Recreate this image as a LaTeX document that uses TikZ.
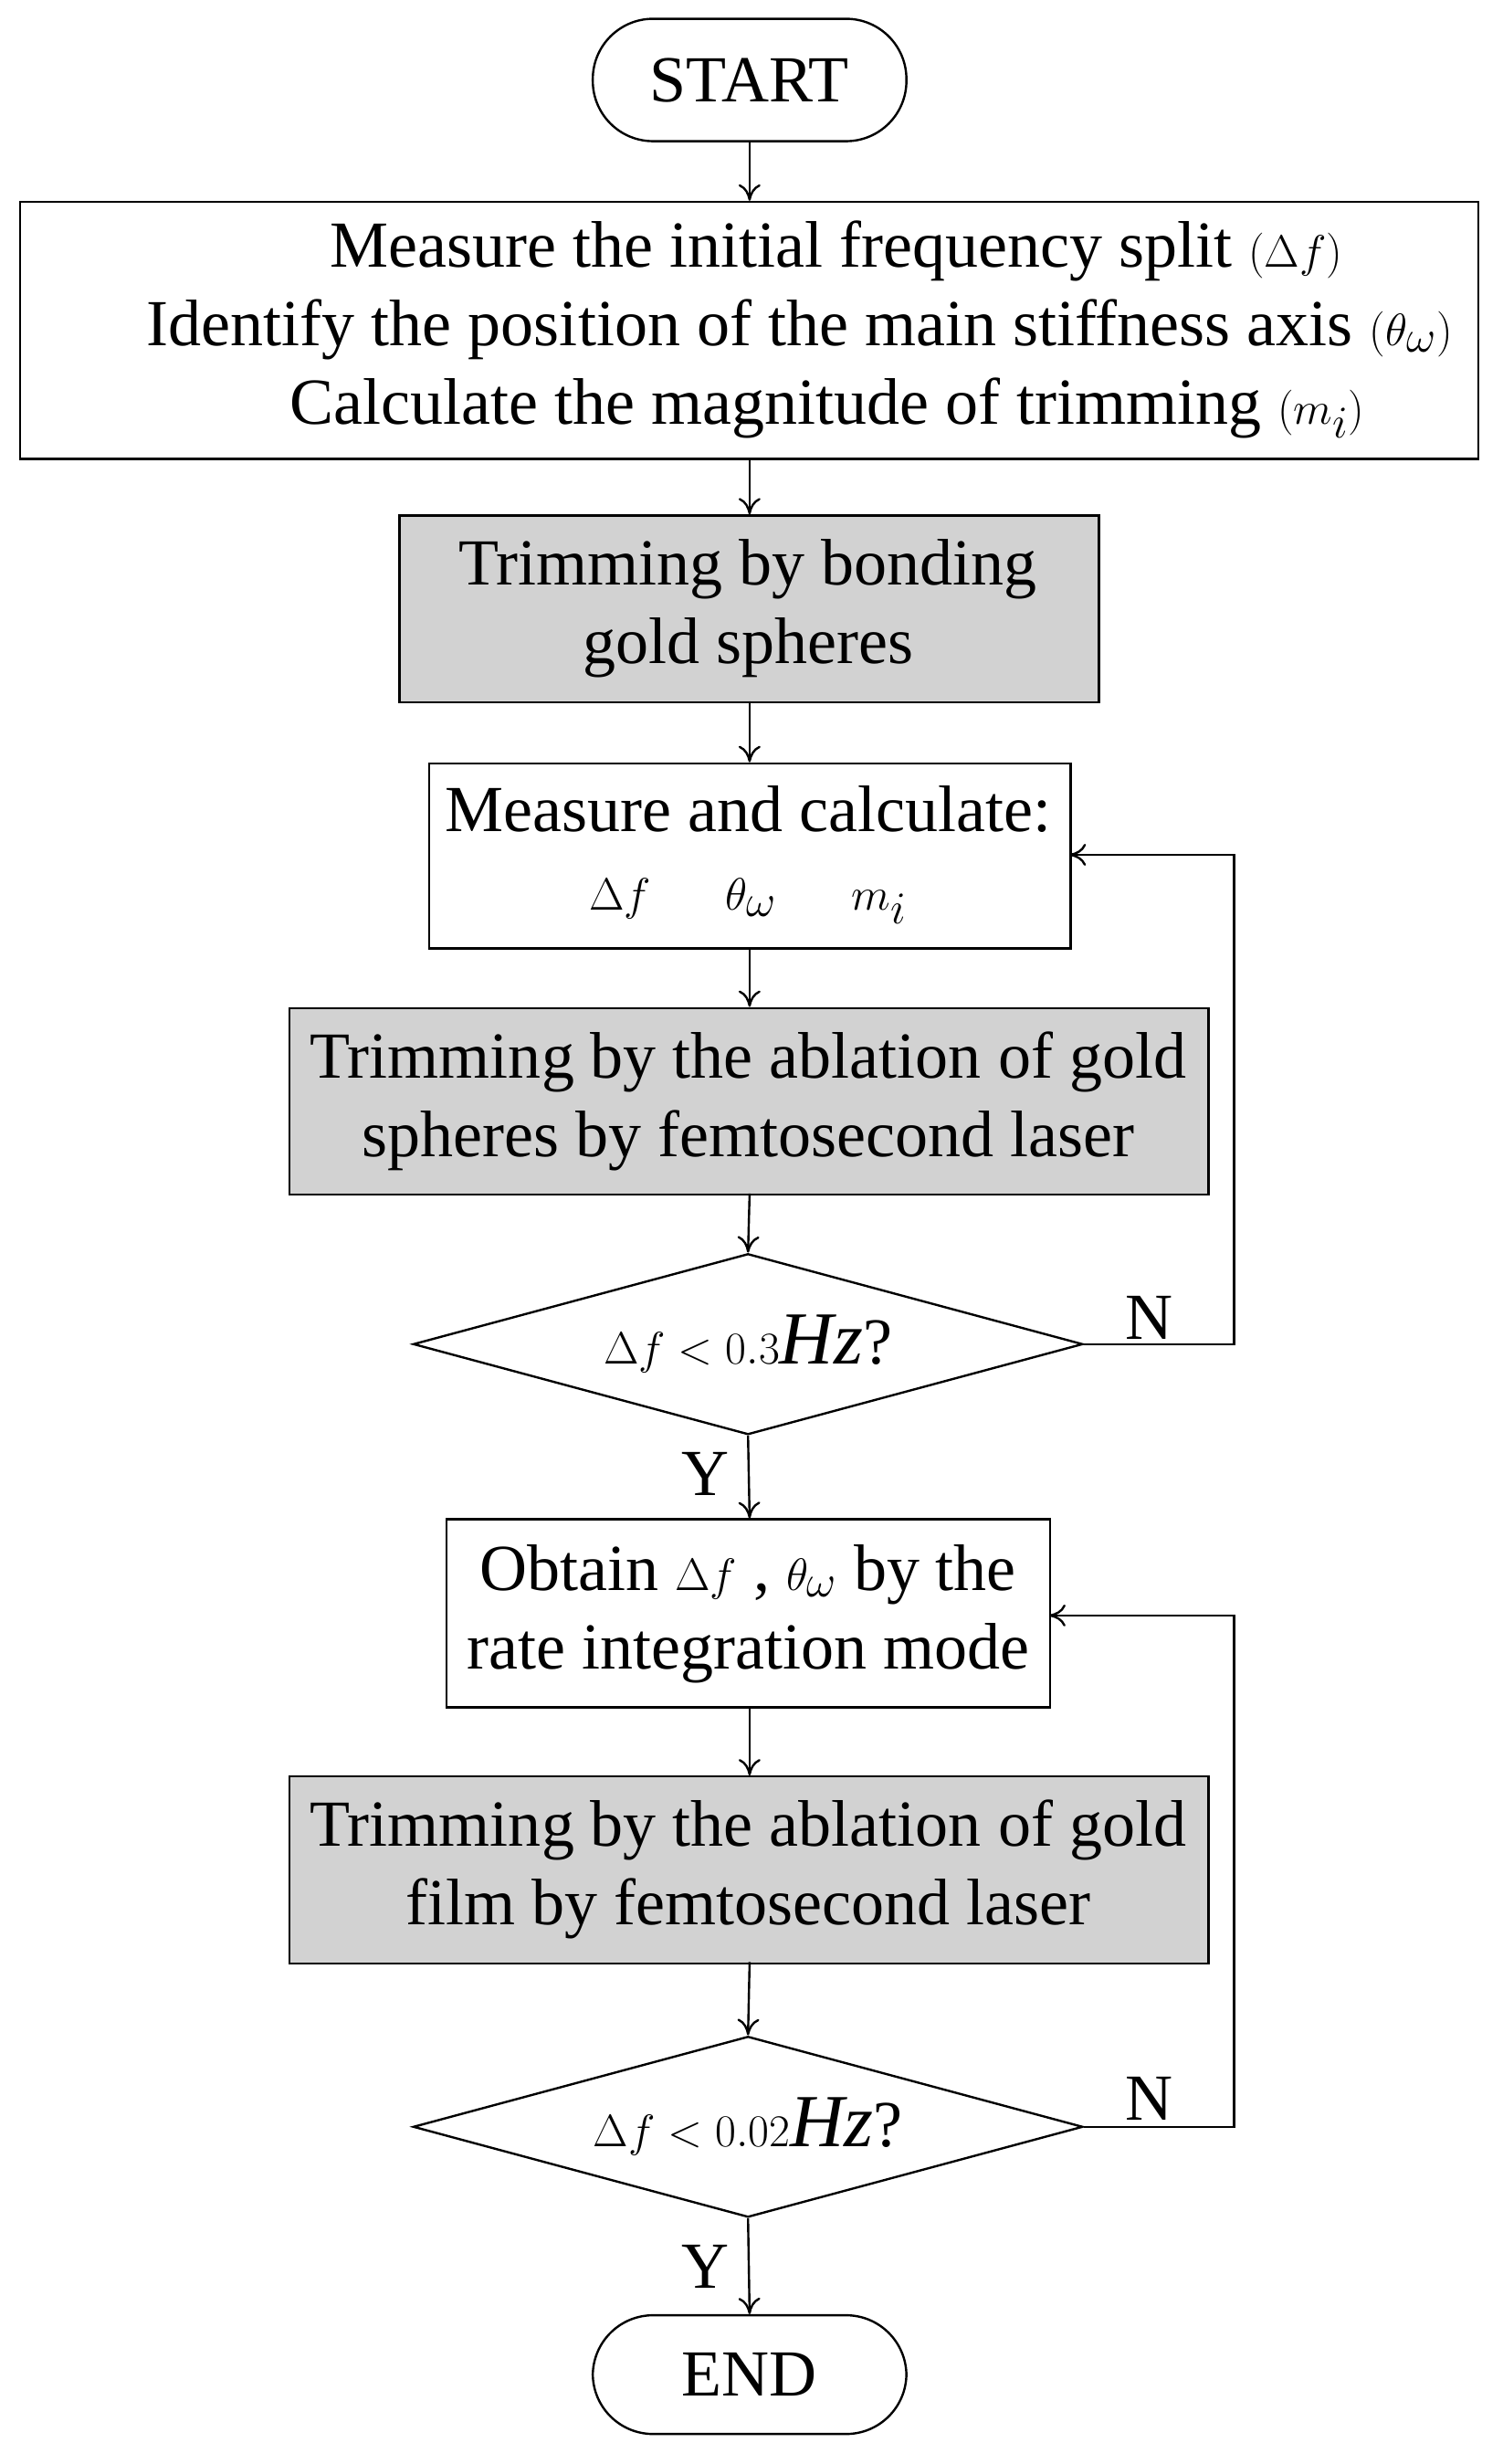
\documentclass[tikz,border=0pt]{standalone}
\usepackage{fontspec}
\setmainfont{Liberation Serif}
\usetikzlibrary{shapes.geometric,arrows.meta}
\newcommand{\mm}[1]{{\fontsize{41}{43}\selectfont$#1$}}
\begin{document}
\begin{tikzpicture}[x=0.8585pt,y=-0.8585pt,
  every node/.style={font=\fontsize{36}{43}\selectfont, align=center, inner sep=0pt},
  box/.style={draw, line width=1.2pt, anchor=north west},
  gbox/.style={box, fill=gray!35},
  arr/.style={line width=1.2pt, -{To[length=9pt,width=12pt]}},
  ln/.style={line width=1.2pt}]
\useasboundingbox (0,0) rectangle (958,1571);
\node[draw, line width=1.2pt, rounded corners=33pt, minimum width=171.7pt, minimum height=67pt] (start) at (478,51) {START};
\node[box, minimum width=798.4pt, minimum height=140.8pt] (b1) at (12,128) {};
\node at (510,210) {\hspace*{40pt}Measure the initial frequency split \mm{(\Delta f)}\\Identify the position of the main stiffness axis \mm{(\theta_\omega)}\\\hspace*{30pt}Calculate the magnitude of trimming \mm{(m_i)}};
\node[gbox, minimum width=382.9pt, minimum height=102.2pt] (b2) at (254,328) {};
\node at (477,388) {Trimming by bonding\\gold spheres};
\node[box, minimum width=351.1pt, minimum height=101.3pt] (b3) at (273,486) {};
\node at (477,545) {Measure and calculate:\\\mm{\Delta f\quad \theta_\omega\quad m_i}};
\node[gbox, minimum width=503.1pt, minimum height=102.2pt] (b4) at (184,642) {};
\node at (477,702) {Trimming by the ablation of gold\\spheres by femtosecond laser};
\node[draw, line width=1.2pt, diamond, aspect=3.7, minimum width=366.6pt, minimum height=99pt] (d1) at (477,857) {\mm{\Delta f<0.3\mathit{Hz}}?};
\node[box, minimum width=330.5pt, minimum height=103pt] (b5) at (284,968) {};
\node at (477,1029) {Obtain \mm{\Delta f} , \mm{\theta_\omega} by the\\rate integration mode};
\node[gbox, minimum width=503.1pt, minimum height=102.2pt] (b6) at (184,1132) {};
\node at (477,1192) {Trimming by the ablation of gold\\film by femtosecond laser};
\node[draw, line width=1.2pt, diamond, aspect=3.7, minimum width=366.6pt, minimum height=99pt] (d2) at (477,1356) {\mm{\Delta f<0.02\mathit{Hz}}?};
\node[draw, line width=1.2pt, rounded corners=33pt, minimum width=171.7pt, minimum height=65pt] (end) at (478,1514) {END};
\draw[arr] (start) -- (478,128);
\draw[arr] (478,292) -- (478,328);
\draw[arr] (478,447) -- (478,486);
\draw[arr] (478,604) -- (478,642);
\draw[arr] (478,761) -- (d1.north);
\draw[arr] (d1.south) -- (478,968);
\draw[arr] (478,1088) -- (478,1132);
\draw[arr] (478,1251) -- (d2.north);
\draw[arr] (d2.south) -- (end.north);
\coordinate (c1) at (682,545);
\coordinate (c2) at (669,1030);
\draw[arr] (d1.east) -- (787,857) -- (787,545) -- (c1);
\draw[arr] (d2.east) -- (787,1356) -- (787,1030) -- (c2);
\node (n1) at (733,840) {N};
\node (n2) at (733,1338) {N};
\node (y1) at (450,940) {Y};
\node (y2) at (450,1445) {Y};
\end{tikzpicture}
\end{document}
